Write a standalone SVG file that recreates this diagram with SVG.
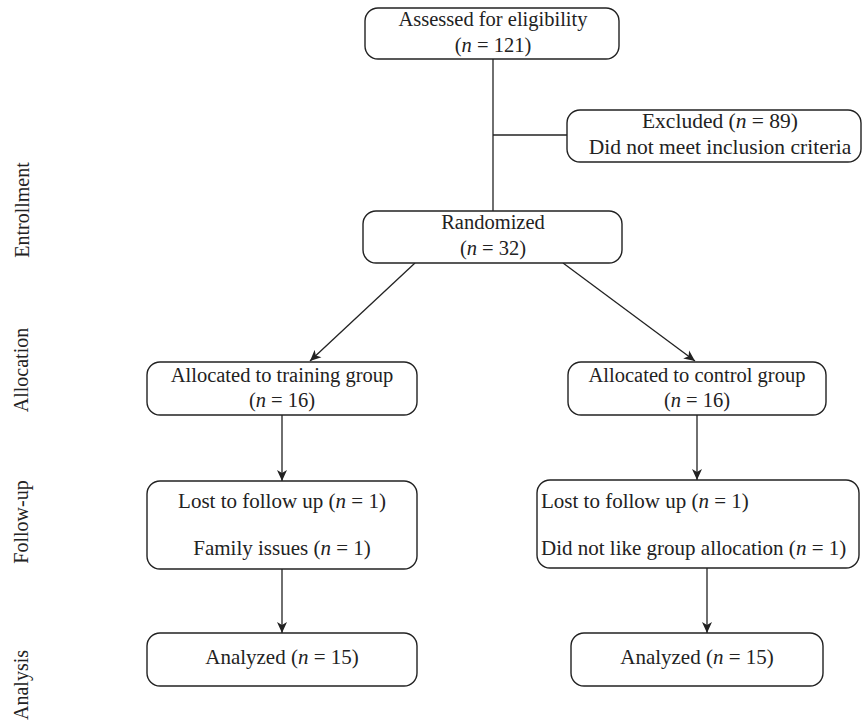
<svg xmlns="http://www.w3.org/2000/svg" width="862" height="722" viewBox="0 0 862 722">
<defs>
<marker id="arr" markerUnits="userSpaceOnUse" markerWidth="12" markerHeight="12" viewBox="0 0 12 12" refX="11" refY="6" orient="auto">
<path d="M0,1 L11,6 L0,11 L3,6 z" fill="#222"/>
</marker>
<style>
.box{fill:#fff;stroke:#222;stroke-width:1.4}
.t{font-family:"Liberation Serif","Times New Roman",serif;font-size:20.5px;fill:#222}
.w{font-size:21px}
.c{text-anchor:middle}
.side{font-family:"Liberation Serif","Times New Roman",serif;font-size:20px;fill:#222;text-anchor:middle}
.ln{stroke:#222;stroke-width:1.3;fill:none}
</style>
</defs>
<rect width="862" height="722" fill="#fff"/>
<g id="side-labels">
<text class="side" transform="translate(29,210) rotate(-90)">Entrollment</text>
<text class="side" transform="translate(28,370) rotate(-90)">Allocation</text>
<text class="side" transform="translate(28,522) rotate(-90)">Follow-up</text>
<text class="side" transform="translate(28,685) rotate(-90)">Analysis</text>
</g>
<g id="connectors">
<line class="ln" x1="493" y1="59" x2="493" y2="211"/>
<line class="ln" x1="493" y1="135" x2="567" y2="135"/>
<line class="ln" x1="415" y1="263" x2="310" y2="361" marker-end="url(#arr)"/>
<line class="ln" x1="563" y1="263" x2="695" y2="361" marker-end="url(#arr)"/>
<line class="ln" x1="282" y1="415" x2="282" y2="481" marker-end="url(#arr)"/>
<line class="ln" x1="697" y1="415" x2="697" y2="480" marker-end="url(#arr)"/>
<line class="ln" x1="282" y1="569" x2="282" y2="633" marker-end="url(#arr)"/>
<line class="ln" x1="707" y1="568" x2="707" y2="633" marker-end="url(#arr)"/>
</g>
<g id="assessed">
<rect class="box" x="365" y="8" width="254" height="51" rx="13"/>
<text class="t c" x="493" y="26">Assessed for eligibility</text>
<text class="t c" x="493" y="52">(<tspan font-style="italic">n</tspan> = 121)</text>
</g>
<g id="excluded">
<rect class="box" x="567" y="110" width="294" height="52" rx="13"/>
<text class="t c" x="720" y="128" style="font-size:21.5px">Excluded (<tspan font-style="italic">n</tspan> = 89)</text>
<text class="t c" x="720" y="154" style="font-size:21.5px">Did not meet inclusion criteria</text>
</g>
<g id="randomized">
<rect class="box" x="363" y="211" width="259" height="52" rx="13"/>
<text class="t c" x="493" y="229">Randomized</text>
<text class="t c" x="493" y="255">(<tspan font-style="italic">n</tspan> = 32)</text>
</g>
<g id="alloc-training">
<rect class="box" x="147" y="362" width="270" height="53" rx="13"/>
<text class="t c" x="282" y="382">Allocated to training group</text>
<text class="t c" x="282" y="407">(<tspan font-style="italic">n</tspan> = 16)</text>
</g>
<g id="alloc-control">
<rect class="box" x="568" y="362" width="258" height="53" rx="13"/>
<text class="t c" x="697" y="382">Allocated to control group</text>
<text class="t c" x="697" y="407">(<tspan font-style="italic">n</tspan> = 16)</text>
</g>
<g id="followup-training">
<rect class="box" x="147" y="481" width="270" height="88" rx="13"/>
<text class="t w c" x="282" y="508">Lost to follow up (<tspan font-style="italic">n</tspan> = 1)</text>
<text class="t w c" x="282" y="555">Family issues (<tspan font-style="italic">n</tspan> = 1)</text>
</g>
<g id="followup-control">
<rect class="box" x="537" y="480" width="322" height="88" rx="13"/>
<text class="t w" x="541" y="508">Lost to follow up (<tspan font-style="italic">n</tspan> = 1)</text>
<text class="t w" x="541" y="555">Did not like group allocation (<tspan font-style="italic">n</tspan> = 1)</text>
</g>
<g id="analyzed-training">
<rect class="box" x="147" y="633" width="270" height="53" rx="13"/>
<text class="t w c" x="282" y="664">Analyzed (<tspan font-style="italic">n</tspan> = 15)</text>
</g>
<g id="analyzed-control">
<rect class="box" x="571" y="633" width="252" height="53" rx="13"/>
<text class="t w c" x="697" y="664">Analyzed (<tspan font-style="italic">n</tspan> = 15)</text>
</g>
</svg>
